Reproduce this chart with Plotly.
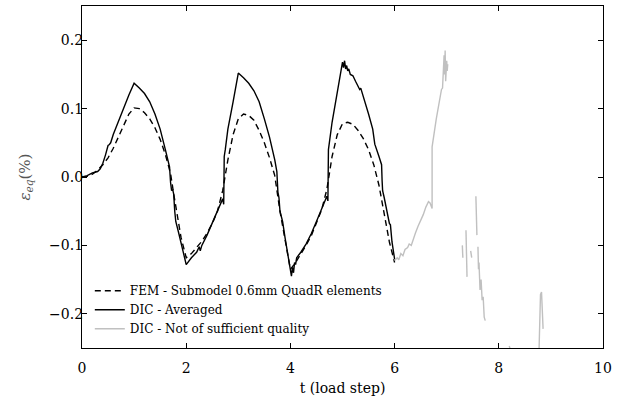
import plotly.graph_objects as go

# FEM - Submodel 0.6mm QuadR elements
fem_t = [0.00, 0.10, 0.20, 0.30, 0.40, 0.50, 0.60, 0.70, 0.80, 0.90, 1.00, 1.10, 1.20, 1.30, 1.40,
         1.50, 1.60, 1.70, 1.75, 1.80, 1.90, 2.00, 2.10, 2.20, 2.30, 2.40, 2.50, 2.60, 2.70, 2.80,
         2.90, 3.00, 3.10, 3.20, 3.30, 3.40, 3.50, 3.60, 3.70, 3.80, 3.90, 4.00, 4.10, 4.20, 4.30,
         4.40, 4.50, 4.60, 4.70, 4.80, 4.90, 5.00, 5.10, 5.20, 5.30, 5.40, 5.50, 5.60, 5.70, 5.80,
         5.90, 6.00]
fem_y = [0.000, 0.001, 0.004, 0.010, 0.018, 0.028, 0.042, 0.058, 0.076, 0.092, 0.101, 0.100, 0.094,
         0.085, 0.072, 0.055, 0.033, 0.005, -0.020, -0.045, -0.088, -0.118, -0.112, -0.103, -0.094,
         -0.082, -0.068, -0.050, -0.020, 0.025, 0.062, 0.085, 0.092, 0.090, 0.083, 0.068, 0.050,
         0.028, 0.002, -0.050, -0.095, -0.135, -0.125, -0.113, -0.100, -0.086, -0.068, -0.048,
         -0.018, 0.030, 0.062, 0.078, 0.080, 0.077, 0.068, 0.056, 0.040, 0.018, -0.012, -0.055,
         -0.095, -0.125]

# DIC - Averaged
dic_t = [0.00, 0.10, 0.20, 0.30, 0.35, 0.40, 0.45, 0.50, 0.52, 0.55, 0.60, 0.70, 0.80, 0.90, 1.00,
         1.05, 1.10, 1.20, 1.30, 1.40, 1.50, 1.60, 1.68, 1.70, 1.72, 1.74, 1.76, 1.78, 1.80, 1.85,
         1.90, 1.95, 2.00, 2.05, 2.10, 2.20, 2.25, 2.27, 2.30, 2.40, 2.50, 2.60, 2.70, 2.72, 2.73,
         2.75, 2.80, 2.90, 3.00, 3.10, 3.20, 3.30, 3.40, 3.50, 3.60, 3.70, 3.74, 3.76, 3.78, 3.80,
         3.85, 3.90, 3.95, 4.00, 4.02, 4.04, 4.06, 4.08, 4.10, 4.12, 4.20, 4.30, 4.40, 4.50, 4.60,
         4.70, 4.72, 4.73, 4.80, 4.90, 5.00, 5.02, 5.04, 5.06, 5.08, 5.10, 5.12, 5.15, 5.20, 5.25,
         5.30, 5.33, 5.35, 5.40, 5.50, 5.58, 5.62, 5.70, 5.75, 5.76, 5.77, 5.80, 5.85, 5.90, 5.92,
         5.95, 6.00]
dic_y = [0.000, 0.002, 0.006, 0.008, 0.012, 0.020, 0.032, 0.046, 0.047, 0.050, 0.062, 0.082, 0.102,
         0.120, 0.137, 0.134, 0.130, 0.122, 0.110, 0.092, 0.070, 0.040, 0.015, -0.008, -0.020,
         -0.018, -0.025, -0.050, -0.065, -0.080, -0.098, -0.112, -0.128, -0.122, -0.118, -0.110,
         -0.102, -0.108, -0.100, -0.085, -0.068, -0.050, -0.032, -0.040, 0.030, 0.040, 0.070, 0.110,
         0.152, 0.145, 0.137, 0.126, 0.110, 0.085, 0.058, 0.025, 0.008, -0.022, -0.030, -0.050,
         -0.065, -0.090, -0.115, -0.140, -0.145, -0.132, -0.140, -0.125, -0.128, -0.118, -0.110,
         -0.098, -0.083, -0.065, -0.045, -0.028, -0.035, 0.040, 0.080, 0.125, 0.168, 0.160, 0.170,
         0.158, 0.163, 0.155, 0.158, 0.150, 0.148, 0.140, 0.132, 0.128, 0.130, 0.118, 0.092, 0.070,
         0.048, 0.030, 0.018, -0.005, -0.020, -0.030, -0.050, -0.068, -0.070, -0.095, -0.120]

# DIC - Not of sufficient quality (None = gap)
bad_t = [6.00, 6.05, 6.08, 6.12, 6.16, 6.20, 6.25, 6.28, 6.32, 6.36, 6.40, 6.45, 6.50, 6.55, 6.60,
         6.65, 6.68, 6.72, 6.72, 6.80, 6.90, 6.92, 6.95, 6.96, 6.97, 6.98, 7.00, 7.01, 7.02, None,
         7.30, 7.31, None,
         7.37, 7.39, None,
         7.46, 7.48, None,
         7.56, 7.58, None,
         7.60, 7.61, 7.62, 7.64, 7.66, 7.68, 7.70, 7.72, 7.74, None,
         8.20, 8.22, None,
         8.77, 8.80, 8.82, 8.85]
bad_y = [-0.122, -0.118, -0.121, -0.112, -0.115, -0.106, -0.103, -0.098, -0.100, -0.090, -0.082,
         -0.072, -0.064, -0.055, -0.044, -0.036, -0.038, -0.046, 0.044, 0.085, 0.128, 0.130, 0.178,
         0.150, 0.185, 0.140, 0.170, 0.155, 0.165, None,
         -0.100, -0.118, None,
         -0.078, -0.146, None,
         -0.108, -0.118, None,
         -0.028, -0.085, None,
         -0.102, -0.135, -0.125, -0.165, -0.150, -0.180, -0.175, -0.205, -0.210, None,
         -0.247, -0.252, None,
         -0.260, -0.172, -0.168, -0.222]

x_ticks = [0, 2, 4, 6, 8, 10]
y_ticks = [-0.2, -0.1, 0.0, 0.1, 0.2]

FONT = "DejaVu Serif"

fig = go.Figure()
fig.add_trace(go.Scatter(x=fem_t, y=fem_y, mode="lines", name="FEM - Submodel 0.6mm QuadR elements",
                         line=dict(color="black", width=1.4, dash="6px,4px")))
fig.add_trace(go.Scatter(x=dic_t, y=dic_y, mode="lines", name="DIC - Averaged",
                         line=dict(color="black", width=1.4)))
fig.add_trace(go.Scatter(x=bad_t, y=bad_y, mode="lines", name="DIC - Not of sufficient quality",
                         connectgaps=False, line=dict(color="#c0c0c0", width=1.4)))

axis_common = dict(showline=True, linecolor="black", linewidth=1.3, mirror="ticks",
                   ticks="inside", ticklen=5, tickwidth=1, tickcolor="black",
                   showgrid=False, zeroline=False,
                   tickfont=dict(family=FONT, size=14, color="black"))

fig.update_xaxes(range=[0, 10], tickvals=x_ticks, ticktext=[str(v) for v in x_ticks],
                 ticklabelstandoff=7,
                 title=dict(text="t (load step)", font=dict(family=FONT, size=14, color="black"),
                            standoff=10),
                 **axis_common)
fig.update_yaxes(range=[-0.25, 0.25], tickvals=y_ticks, tickformat=".1f",
                 ticklabelstandoff=-5,
                 title=dict(text="<i>ε</i><sub><i>eq</i></sub>(%)",
                            font=dict(family=FONT, size=15, color="#555"), standoff=14),
                 **axis_common)

fig.update_layout(
    width=627, height=396,
    margin=dict(l=82, r=24, t=6, b=48, autoexpand=False),
    plot_bgcolor="white", paper_bgcolor="white",
    font=dict(family=FONT, color="black"),
    showlegend=True,
    legend=dict(x=0.015, y=0.21, xanchor="left", yanchor="top",
                bgcolor="rgba(0,0,0,0)", borderwidth=0,
                font=dict(family=FONT, size=12, color="black"),
                tracegroupgap=0),
)

fig.write_html("out.html", config={"displayModeBar": False},
               post_script="document.body.style.margin='0px';")
